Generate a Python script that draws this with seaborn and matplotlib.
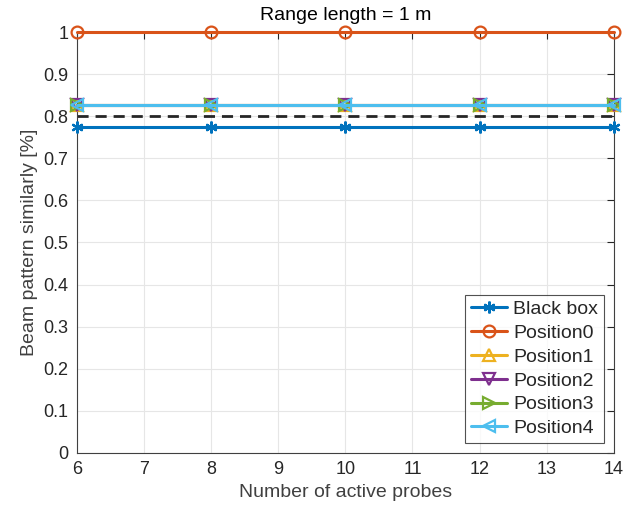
import numpy as np
import pandas as pd
import matplotlib
matplotlib.use("Agg")
import matplotlib.pyplot as plt
import seaborn as sns

probes = [6, 8, 10, 12, 14]
black_box = [0.774, 0.774, 0.774, 0.774, 0.774]
position0 = [1.0, 1.0, 1.0, 1.0, 1.0]
position1 = [0.826, 0.826, 0.826, 0.826, 0.826]
position2 = [0.826, 0.826, 0.826, 0.826, 0.826]
position3 = [0.826, 0.826, 0.826, 0.826, 0.826]
position4 = [0.826, 0.826, 0.826, 0.826, 0.826]
threshold = 0.8
series_names = ["Black box", "Position0", "Position1", "Position2", "Position3", "Position4"]
x_ticks = [6, 7, 8, 9, 10, 11, 12, 13, 14]
y_ticks = [0, 0.1, 0.2, 0.3, 0.4, 0.5, 0.6, 0.7, 0.8, 0.9, 1]
y_tick_labels = ["0", "0.1", "0.2", "0.3", "0.4", "0.5", "0.6", "0.7", "0.8", "0.9", "1"]

sns.set_style("white")
plt.rcParams['font.family'] = ['Liberation Sans', 'DejaVu Sans']

colors = ["#0072BD", "#D95319", "#EDB120", "#7E2F8E", "#77AC30", "#4DBEEE"]
markers = [(6, 2, 0), "o", "^", "v", ">", "<"]
values = [black_box, position0, position1, position2, position3, position4]

rows = []
for name, vals in zip(series_names, values):
    for p, v in zip(probes, vals):
        rows.append({"probes": p, "value": v, "series": name})
df = pd.DataFrame(rows)

fig = plt.figure(figsize=(6.36, 5.14), dpi=100)
ax = fig.add_axes([0.121, 0.119, 0.844, 0.8187])

for name, c, m in zip(series_names, colors, markers):
    sub = df[df["series"] == name]
    sns.lineplot(data=sub, x="probes", y="value", ax=ax, color=c, marker=m,
                 markersize=8.5, markerfacecolor="none", markeredgecolor=c,
                 markeredgewidth=1.6, linewidth=2.2, label=name, clip_on=False,
                 zorder=3)

ax.axhline(threshold, color="#262626", linestyle=(0, (4, 2.5)), linewidth=2.0, zorder=2.5)

ax.set_xlim(6, 14)
ax.set_ylim(0, 1)
ax.set_xticks(x_ticks)
ax.set_yticks(y_ticks)
ax.set_yticklabels(y_tick_labels)
ax.grid(True, color="#e6e6e6", linewidth=0.8)
ax.set_axisbelow(True)
for s in ax.spines.values():
    s.set_color("#404040")
    s.set_linewidth(0.8)
ax.tick_params(direction="in", length=5, width=0.8, colors="#262626", labelsize=13,
               top=True, right=True, pad=6)
ax.set_xlabel("Number of active probes", fontsize=14, color="#404040")
ax.set_ylabel("Beam pattern similarly [%]", fontsize=14, color="#404040")
ax.set_title("Range length = 1 m", fontsize=14, color="black", pad=9)

leg = ax.legend(loc="lower right", fontsize=14, frameon=True, fancybox=False,
                edgecolor="#262626", handlelength=1.9, borderpad=0.3,
                labelspacing=0.32, handletextpad=0.3, borderaxespad=0.5)
leg.get_frame().set_linewidth(0.8)
leg.set_zorder(5)

fig.savefig("out.png", dpi=100)
